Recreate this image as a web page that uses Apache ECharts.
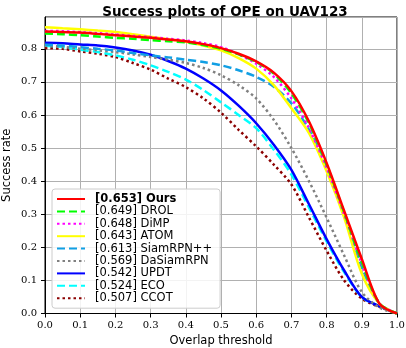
<!DOCTYPE html>
<html>
<head>
<meta charset="utf-8">
<script src="https://cdn.jsdelivr.net/npm/echarts@6/dist/echarts.min.js"></script>
<style>
  html, body { margin: 0; padding: 0; background: #fff; }
  #chart { width: 406px; height: 348px; }
</style>
</head>
<body>
<div id="chart"></div>
<script>
// overlap thresholds (x)
const thresholds = [0, 0.05, 0.1, 0.15, 0.2, 0.25, 0.3, 0.35, 0.4, 0.45, 0.5,
  0.55, 0.6, 0.65, 0.7, 0.75, 0.8, 0.85, 0.9, 0.95, 1.0]

const trackers = ['Ours', 'DROL', 'DiMP', 'ATOM', 'SiamRPN++', 'DaSiamRPN', 'UPDT', 'ECO', 'CCOT']
const aucScores = ['0.653', '0.649', '0.648', '0.643', '0.613', '0.569', '0.542', '0.524', '0.507']

// success rate
const ours = [0.852, 0.851, 0.849, 0.845, 0.841, 0.837, 0.833, 0.828, 0.823, 0.814, 0.802,
  0.785, 0.762, 0.728, 0.672, 0.58, 0.455, 0.31, 0.165, 0.03, 0]
const drol = [0.846, 0.844, 0.841, 0.837, 0.833, 0.83, 0.826, 0.823, 0.819, 0.811, 0.80,
  0.783, 0.76, 0.725, 0.665, 0.575, 0.45, 0.305, 0.155, 0.03, 0]
const dimp = [0.854, 0.853, 0.85, 0.847, 0.843, 0.839, 0.835, 0.83, 0.825, 0.817, 0.805,
  0.783, 0.755, 0.715, 0.65, 0.56, 0.44, 0.3, 0.15, 0.03, 0]
const atom = [0.865, 0.862, 0.859, 0.855, 0.851, 0.844, 0.836, 0.829, 0.821, 0.81, 0.795,
  0.772, 0.74, 0.69, 0.62, 0.545, 0.43, 0.29, 0.12, 0.03, 0]
const siamrpnpp = [0.812, 0.81, 0.805, 0.80, 0.795, 0.787, 0.78, 0.774, 0.767, 0.76, 0.75,
  0.735, 0.715, 0.685, 0.635, 0.555, 0.44, 0.3, 0.14, 0.03, 0]
const dasiamrpn = [0.81, 0.806, 0.80, 0.795, 0.79, 0.783, 0.775, 0.767, 0.757, 0.742, 0.72,
  0.69, 0.65, 0.585, 0.50, 0.40, 0.29, 0.175, 0.065, 0.018, 0]
const updt = [0.818, 0.817, 0.813, 0.81, 0.804, 0.795, 0.782, 0.763, 0.74, 0.71, 0.674,
  0.628, 0.575, 0.51, 0.434, 0.33, 0.225, 0.13, 0.05, 0.022, 0]
const eco = [0.809, 0.805, 0.797, 0.79, 0.78, 0.767, 0.75, 0.73, 0.707, 0.675, 0.638,
  0.60, 0.56, 0.495, 0.42, 0.32, 0.218, 0.125, 0.05, 0.022, 0]
const ccot = [0.802, 0.80, 0.792, 0.785, 0.775, 0.757, 0.737, 0.71, 0.684, 0.65, 0.607,
  0.555, 0.505, 0.45, 0.39, 0.29, 0.19, 0.10, 0.045, 0.02, 0]

const xTicks = [0, 0.1, 0.2, 0.3, 0.4, 0.5, 0.6, 0.7, 0.8, 0.9, 1.0]
const yTicks = [0, 0.1, 0.2, 0.3, 0.4, 0.5, 0.6, 0.7, 0.8]

const curves = [ours, drol, dimp, atom, siamrpnpp, dasiamrpn, updt, eco, ccot]
const colors = ['#ff0000', '#00ff00', '#ff00ff', '#ffff00', '#119fe4', '#808080', '#0000ff', '#00ffff', '#8b0000']
const dashes = ['solid', [8, 4], [2.5, 3], 'solid', [8, 4], [2.5, 3], 'solid', [8, 4], [2.5, 3]]

const chart = echarts.init(document.getElementById('chart'))

const series = trackers.map((name, i) => ({
  name: name,
  type: 'line',
  data: thresholds.map((t, k) => [t, curves[i][k]]),
  showSymbol: false,
  symbol: 'none',
  smooth: 0.3,
  color: colors[i],
  lineStyle: { color: colors[i], width: 2.5, type: dashes[i] },
  z: 10 + (trackers.length - i)
})).reverse()

chart.setOption({
  animation: false,
  title: {
    text: 'Success plots of OPE on UAV123',
    left: 220,
    textAlign: 'center',
    top: 0,
    textStyle: { fontFamily: 'DejaVu Sans', fontWeight: 'bold', fontSize: 13.5, lineHeight: 14, color: '#000' }
  },
  grid: {
    left: 45, right: 9, top: 17, bottom: 34.5,
    outerBoundsMode: 'none',
    containLabel: false,
    show: true, borderColor: '#000', borderWidth: 1
  },
  legend: {
    orient: 'vertical',
    left: 52,
    top: 189,
    width: 166,
    padding: [4, 8, 4, 4],
    itemWidth: 28,
    itemHeight: 10,
    itemGap: 0.4,
    itemStyle: { opacity: 0 },
    backgroundColor: 'rgba(255,255,255,0.85)',
    borderColor: '#cccccc',
    borderWidth: 1,
    borderRadius: 3,
    data: trackers,
    formatter: function (name) {
      const i = trackers.indexOf(name)
      const label = '[' + aucScores[i] + '] ' + name
      return i === 0 ? '{b|' + label + '}' : label
    },
    textStyle: {
      fontFamily: 'DejaVu Sans',
      fontSize: 11.5,
      lineHeight: 12,
      color: '#000',
      padding: [0, 0, 0, 5],
      rich: { b: { fontFamily: 'DejaVu Sans', fontSize: 11.5, lineHeight: 12, fontWeight: 'bold', color: '#000' } }
    }
  },
  xAxis: {
    type: 'value',
    min: 0,
    max: 1,
    interval: 0.1,
    name: 'Overlap threshold',
    nameLocation: 'middle',
    nameGap: 21.5,
    nameMoveOverlap: false,
    nameTextStyle: { fontFamily: 'DejaVu Sans', fontSize: 11.5, color: '#000' },
    axisLine: { lineStyle: { color: '#000', width: 1 } },
    axisTick: { show: true, length: 4, lineStyle: { color: '#000' } },
    axisLabel: {
      margin: 7,
      fontFamily: 'DejaVu Serif',
      fontSize: 10,
      color: '#000',
      formatter: v => xTicks.some(t => Math.abs(t - v) < 1e-6) ? v.toFixed(1) : ''
    },
    splitLine: { show: true, lineStyle: { color: '#b0b0b0', width: 1 } }
  },
  yAxis: {
    type: 'value',
    min: 0,
    max: 0.896,
    interval: 0.1,
    name: 'Success rate',
    nameLocation: 'middle',
    nameGap: 32,
    nameMoveOverlap: false,
    nameTextStyle: { fontFamily: 'DejaVu Sans', fontSize: 11.5, color: '#000' },
    axisLine: { show: true, lineStyle: { color: '#000', width: 1 } },
    axisTick: { show: true, length: 4, lineStyle: { color: '#000' } },
    axisLabel: {
      margin: 8,
      showMaxLabel: false,
      fontFamily: 'DejaVu Serif',
      fontSize: 10,
      color: '#000',
      formatter: v => yTicks.some(t => Math.abs(t - v) < 1e-6) ? v.toFixed(1) : ''
    },
    splitLine: { show: true, lineStyle: { color: '#b0b0b0', width: 1 } }
  },
  series: series
})
</script>
</body>
</html>
